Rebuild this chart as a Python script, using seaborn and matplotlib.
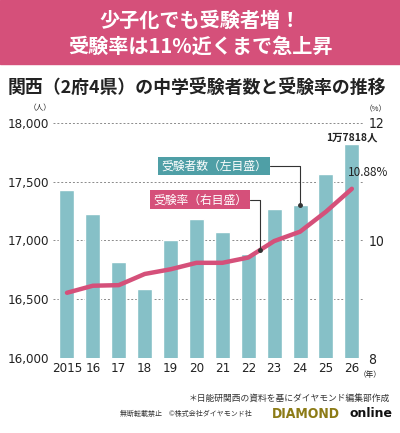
import numpy as np
import pandas as pd
import matplotlib
matplotlib.use("Agg")
import matplotlib.pyplot as plt
import seaborn as sns

# data
years = ["2015", "16", "17", "18", "19", "20", "21", "22", "23", "24", "25", "26"]
examinees = [17430, 17225, 16815, 16590, 17000, 17185, 17070, 16885, 17270, 17305, 17570, 17818]
rate = [9.11, 9.23, 9.24, 9.43, 9.51, 9.62, 9.62, 9.71, 9.99, 10.15, 10.49, 10.88]
left_ticks = [16000, 16500, 17000, 17500, 18000]
right_ticks = [8, 10, 12]

PINK = "#d5507a"
TEAL = "#86c0c7"
TEAL_DARK = "#4f9fa6"
NARROW = ["Liberation Sans Narrow", "DejaVu Sans"]
JP = ["Noto Sans CJK JP", "DejaVu Sans"]

sns.set_style("white")
plt.rcParams["font.family"] = JP

df = pd.DataFrame({"year": years, "examinees": examinees, "rate": rate})

fig = plt.figure(figsize=(4, 4.33), dpi=100)

# header band
fig.patches.append(plt.Rectangle((0, 0.852), 1, 0.148, transform=fig.transFigure,
                                 color=PINK, zorder=0))
fig.text(0.5, 0.953, "少子化でも受験者増！", ha="center", va="center",
         color="white", fontsize=14.5, fontweight="bold")
fig.text(0.5, 0.893, "受験率は11%近くまで急上昇", ha="center", va="center",
         color="white", fontsize=14.5, fontweight="bold")
fig.text(0.02, 0.797, "関西（2府4県）の中学受験者数と受験率の推移", ha="left", va="center",
         color="#222222", fontsize=12.9, fontweight="bold")

ax = fig.add_axes([0.1325, 0.1732, 0.775, 0.5428])
sns.barplot(data=df, x="year", y="examinees", color=TEAL, width=0.58,
            saturation=1, ax=ax, zorder=2)
ax.set_ylim(16000, 18000)
ax.set_xlim(-0.54, 11.43)
ax.set_yticks(left_ticks)
ax.set_yticklabels([f"{v:,}" for v in left_ticks], family=NARROW, fontstretch="condensed",
                   fontsize=9.5, color="#222222")
ax.set_xticks(range(len(years)))
ax.set_xticklabels(years, family=NARROW, fontstretch="condensed", fontsize=9.5, color="#222222")
ax.set_xlabel("")
ax.set_ylabel("")
ax.tick_params(axis="both", length=0, pad=3)
for t in left_ticks:
    ax.axhline(t, color="#8a8a8a", lw=0.7, ls=(0, (2, 2)), zorder=1)
for s in ax.spines.values():
    s.set_visible(False)

ax2 = ax.twinx()
sns.lineplot(x=np.arange(len(years)), y=df["rate"], color=PINK, lw=3.2, ax=ax2, zorder=3)
ax2.set_ylim(8, 12)
ax2.set_yticks(right_ticks)
ax2.set_yticklabels([str(v) for v in right_ticks], family=NARROW, fontstretch="condensed",
                    fontsize=10, color="#222222")
ax2.tick_params(axis="y", length=0, pad=4)
ax2.set_ylabel("")
for s in ax2.spines.values():
    s.set_visible(False)

# unit labels
fig.text(0.1, 0.75, "（人）", ha="center", va="center", fontsize=5.5, color="#222222")
fig.text(0.94, 0.748, "（%）", ha="center", va="center", fontsize=5.5, color="#222222")
fig.text(0.925, 0.134, "（年）", ha="center", va="center", fontsize=5.5, color="#222222")

# value labels
ax.annotate("1万7818人", xy=(11, examinees[11]), xytext=(0, 1), textcoords="offset points",
            ha="center", va="bottom", fontsize=7.5, fontweight="bold", color="#222222")
ax2.annotate("10.88%", xy=(11, rate[11]), xytext=(12, 7), textcoords="offset points",
             ha="center", va="bottom", fontsize=8.5, color="#222222")

# legend callouts
lead = dict(arrowstyle="-", color="#333333", lw=0.8,
            connectionstyle="angle,angleA=0,angleB=90,rad=0", shrinkA=0, shrinkB=0)
ax.annotate("受験者数（左目盛）", xy=(9, examinees[9]), xytext=(5.68, 17634),
            ha="center", va="center", fontsize=8.5, color="white",
            bbox=dict(boxstyle="square,pad=0.25", fc=TEAL_DARK, ec="none"),
            arrowprops=lead, zorder=5)
ax.plot(9, examinees[9], "o", color="#333333", ms=2.5, zorder=5)
xp = 7.45
yp = np.interp(xp, np.arange(len(rate)), rate)
ax2.annotate("受験率（右目盛）", xy=(xp, yp), xytext=(5.15, 10.69),
             ha="center", va="center", fontsize=8.5, color="white",
             bbox=dict(boxstyle="square,pad=0.25", fc=PINK, ec="none"),
             arrowprops=lead, zorder=5)
ax2.plot(xp, yp, "o", color="#333333", ms=2.5, zorder=5)

# footer
fig.text(0.975, 0.081, "＊日能研関西の資料を基にダイヤモンド編集部作成", ha="right", va="center",
         fontsize=6.3, color="#333333")
fig.text(0.3, 0.043, "無断転載禁止　©株式会社ダイヤモンド社", ha="left", va="center",
         fontsize=5, color="#333333")
fig.text(0.68, 0.045, "DIAMOND", ha="left", va="center", family=NARROW, fontstretch="condensed",
         fontsize=10, fontweight="bold", color="#8c7b16")
fig.text(0.98, 0.045, "online", ha="right", va="center", family=["DejaVu Sans"],
         fontsize=9, fontweight="bold", color="#111111")

fig.savefig("out.png", dpi=100)
